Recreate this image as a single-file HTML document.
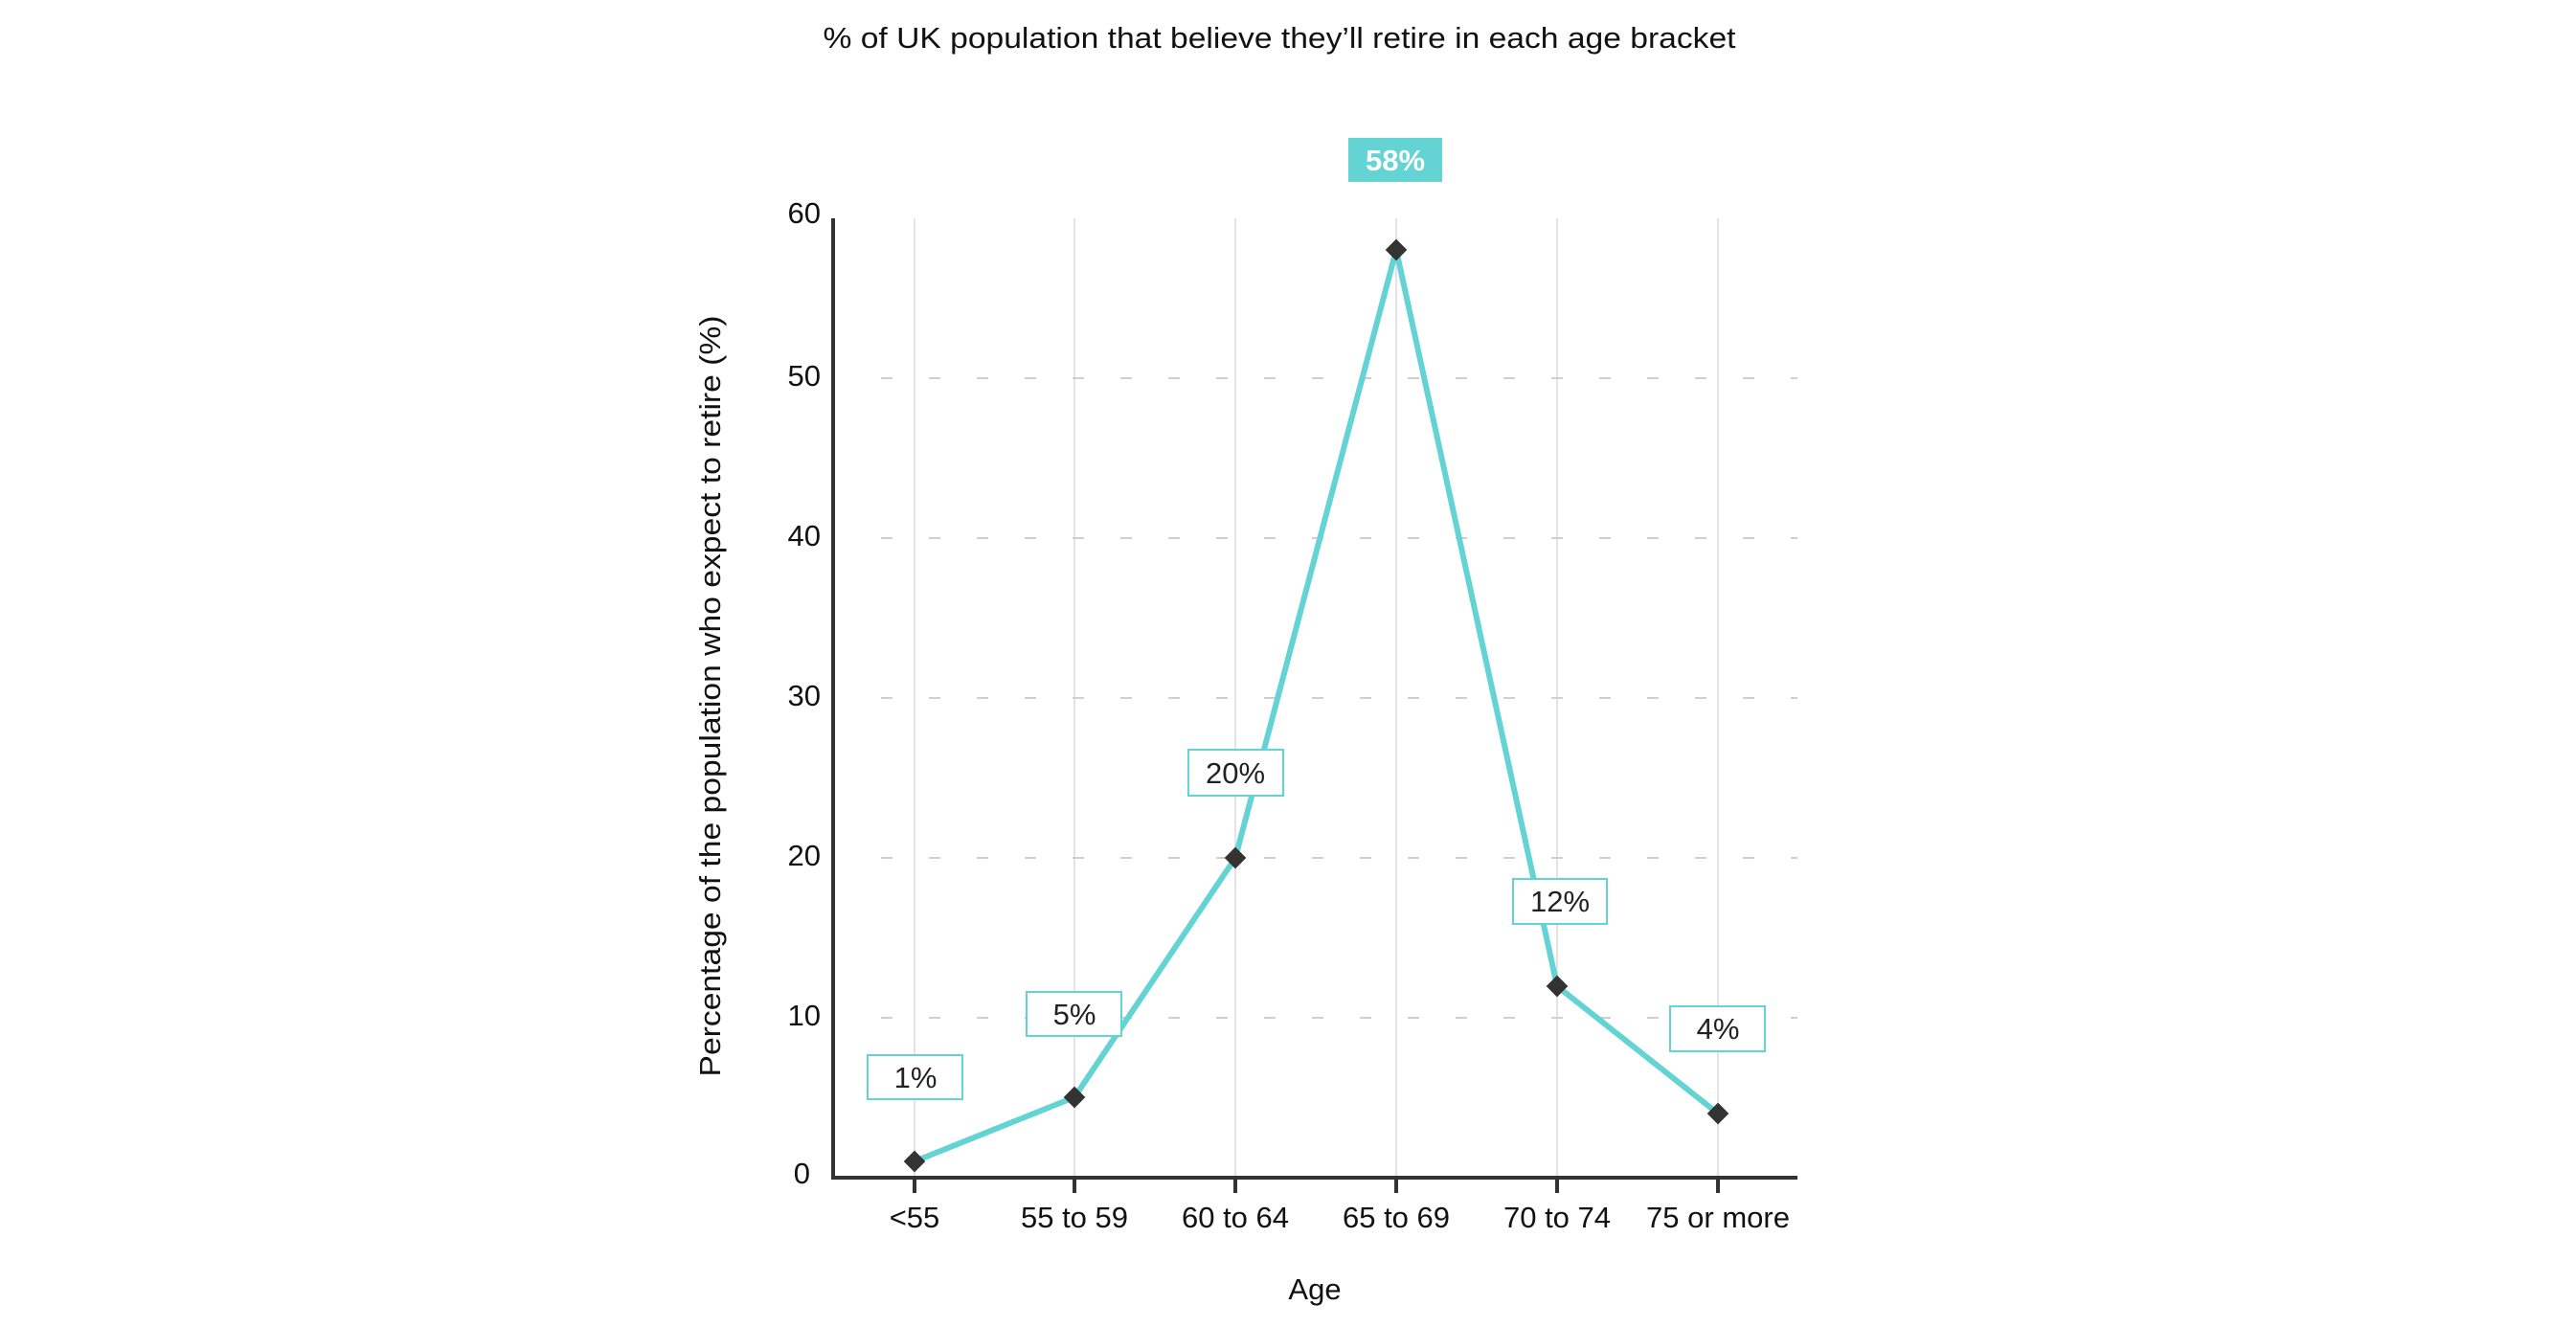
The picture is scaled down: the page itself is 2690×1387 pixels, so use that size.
<!DOCTYPE html>
<html><head><style>html,body{margin:0;padding:0;background:#fff}svg{display:block}</style></head>
<body>
<svg width="2690" height="1387" xmlns="http://www.w3.org/2000/svg" font-family="Liberation Sans, Arial, sans-serif">
<rect width="2690" height="1387" fill="#fff"/>
<text x="1336" y="50" font-size="31" text-anchor="middle" fill="#111" textLength="953" lengthAdjust="spacingAndGlyphs">% of UK population that believe they’ll retire in each age bracket</text>
<g stroke="#e4e4e4" stroke-width="2">
<line x1="955" y1="228" x2="955" y2="1230"/><line x1="1122" y1="228" x2="1122" y2="1230"/><line x1="1290" y1="228" x2="1290" y2="1230"/><line x1="1458" y1="228" x2="1458" y2="1230"/><line x1="1626" y1="228" x2="1626" y2="1230"/><line x1="1794" y1="228" x2="1794" y2="1230"/>
</g>
<g stroke="#cfcfcf" stroke-width="2" stroke-dasharray="12 38">
<line x1="920" y1="395" x2="1877" y2="395"/><line x1="920" y1="562" x2="1877" y2="562"/><line x1="920" y1="729" x2="1877" y2="729"/><line x1="920" y1="896" x2="1877" y2="896"/><line x1="920" y1="1063" x2="1877" y2="1063"/>
</g>
<g stroke="#333" stroke-width="4">
<line x1="870" y1="228" x2="870" y2="1232"/><line x1="868" y1="1230" x2="1877" y2="1230"/>
<line x1="955" y1="1230" x2="955" y2="1246"/><line x1="1122" y1="1230" x2="1122" y2="1246"/><line x1="1290" y1="1230" x2="1290" y2="1246"/><line x1="1458" y1="1230" x2="1458" y2="1246"/><line x1="1626" y1="1230" x2="1626" y2="1246"/><line x1="1794" y1="1230" x2="1794" y2="1246"/>
</g>
<g font-size="31" fill="#111" text-anchor="end">
<text x="857" y="233">60</text><text x="857" y="403">50</text><text x="857" y="570">40</text><text x="857" y="737">30</text><text x="857" y="904">20</text><text x="857" y="1071">10</text><text x="846" y="1236">0</text>
</g>
<g font-size="31" fill="#111" text-anchor="middle">
<text x="955" y="1282">&lt;55</text><text x="1122" y="1282">55 to 59</text><text x="1290" y="1282">60 to 64</text><text x="1458" y="1282">65 to 69</text><text x="1626" y="1282">70 to 74</text><text x="1794" y="1282">75 or more</text>
<text x="1373" y="1357">Age</text>
</g>
<text transform="translate(752,727) rotate(-90)" font-size="31" fill="#111" text-anchor="middle" textLength="795" lengthAdjust="spacingAndGlyphs">Percentage of the population who expect to retire (%)</text>
<polyline points="955,1213 1122,1146 1290,896 1458,261 1626,1030 1794,1163" fill="none" stroke="#63d3d4" stroke-width="6" stroke-linejoin="round"/>
<g fill="#333">
<rect x="947" y="1205" width="16" height="16" transform="rotate(45 955 1213)"/>
<rect x="1114" y="1138" width="16" height="16" transform="rotate(45 1122 1146)"/>
<rect x="1282" y="888" width="16" height="16" transform="rotate(45 1290 896)"/>
<rect x="1450" y="253" width="16" height="16" transform="rotate(45 1458 261)"/>
<rect x="1618" y="1022" width="16" height="16" transform="rotate(45 1626 1030)"/>
<rect x="1786" y="1155" width="16" height="16" transform="rotate(45 1794 1163)"/>
</g>
<g fill="#fff" stroke="#63d3d4" stroke-width="2">
<rect x="906" y="1102" width="99" height="46"/><rect x="1072" y="1036" width="99" height="46"/><rect x="1241" y="783" width="99" height="48"/><rect x="1580" y="918" width="98" height="47"/><rect x="1744" y="1051" width="99" height="47"/>
</g>
<rect x="1408" y="144" width="98" height="46" fill="#63d3d4"/>
<g font-size="31" fill="#222" text-anchor="middle">
<text x="956" y="1136">1%</text><text x="1122" y="1070">5%</text><text x="1290" y="818">20%</text><text x="1629" y="952">12%</text><text x="1794" y="1085">4%</text>
</g>
<text x="1457" y="178" font-size="31" font-weight="bold" fill="#fff" text-anchor="middle">58%</text>
</svg>
</body></html>
